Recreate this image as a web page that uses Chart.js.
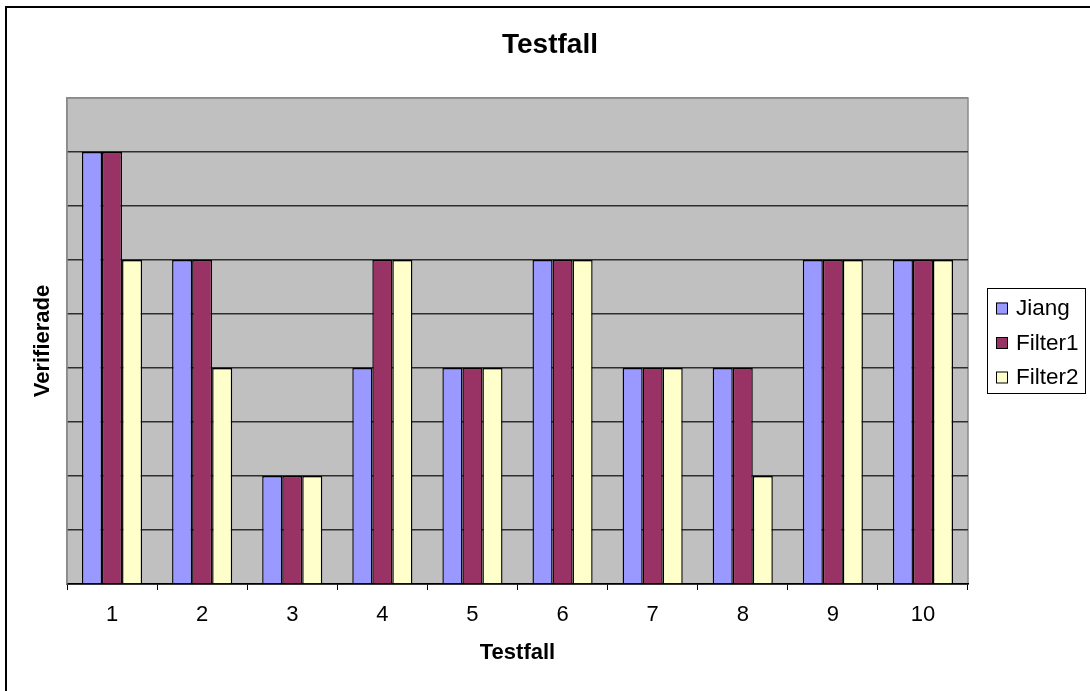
<!DOCTYPE html>
<html>
<head>
<meta charset="utf-8">
<script src="https://cdn.jsdelivr.net/npm/chart.js@4/dist/chart.umd.min.js"></script>
<style>
  html, body { margin: 0; padding: 0; background: #fff; }
  #c { display: block; }
</style>
</head>
<body>
<canvas id="c" width="1090" height="691"></canvas>
<script>
// Test cases and verified counts per method
const categories = ['1', '2', '3', '4', '5', '6', '7', '8', '9', '10'];
const seriesNames = ['Jiang', 'Filter1', 'Filter2'];
const jiang   = [8, 6, 2, 4, 4, 6, 4, 4, 6, 6];
const filter1 = [8, 6, 2, 6, 4, 6, 4, 4, 6, 6];
const filter2 = [6, 4, 2, 6, 4, 6, 4, 2, 6, 6];
const seriesColors = ['#9999FF', '#993366', '#FFFFCC'];
const yMax = 9;

const FONT = "'Liberation Sans', Arial, sans-serif";

// Grey plot background with a thin grey frame
const plotBackground = {
  id: 'plotBackground',
  beforeDraw(chart) {
    const { ctx, chartArea: a } = chart;
    ctx.save();
    ctx.fillStyle = '#C0C0C0';
    ctx.fillRect(a.left, a.top, a.right - a.left, a.bottom - a.top);
    ctx.strokeStyle = '#8a8a8a';
    ctx.lineWidth = 1.5;
    ctx.strokeRect(a.left, a.top, a.right - a.left, a.bottom - a.top);
    ctx.restore();
  }
};

// Outer frame lines and boxed legend
const frameAndLegend = {
  id: 'frameAndLegend',
  afterDraw(chart) {
    const ctx = chart.ctx;
    ctx.save();
    ctx.fillStyle = '#000';
    ctx.fillRect(5, 6, 2, 700);
    ctx.fillRect(5, 6, 1100, 2);

    // legend box
    const bx = 987, by = 288, bw = 98, bh = 105;
    ctx.fillStyle = '#fff';
    ctx.fillRect(bx, by, bw, bh);
    ctx.strokeStyle = '#000';
    ctx.lineWidth = 1;
    ctx.strokeRect(bx + 0.5, by + 0.5, bw, bh);

    ctx.font = '22.5px ' + FONT;
    ctx.textBaseline = 'middle';
    ctx.textAlign = 'left';
    chart.data.datasets.forEach((ds, i) => {
      const cy = 308 + i * 34.5;
      ctx.fillStyle = ds.backgroundColor;
      ctx.fillRect(996, cy - 5.5, 11, 11);
      ctx.strokeStyle = '#000';
      ctx.lineWidth = 1;
      ctx.strokeRect(996.5, cy - 5, 11, 11);
      ctx.fillStyle = '#000';
      ctx.fillText(ds.label, 1016, cy + 1);
    });
    ctx.restore();
  }
};

const dataSeries = [jiang, filter1, filter2];

new Chart(document.getElementById('c'), {
  type: 'bar',
  data: {
    labels: categories,
    datasets: seriesNames.map((name, i) => ({
      label: name,
      data: dataSeries[i],
      backgroundColor: seriesColors[i],
      borderColor: '#000',
      borderWidth: 1.4,
      categoryPercentage: 0.667,
      barPercentage: 1.0
    }))
  },
  options: {
    responsive: false,
    animation: false,
    layout: { padding: { left: 10, right: 0, top: 0, bottom: 0 } },
    plugins: {
      legend: { display: false },
      tooltip: { enabled: false },
      title: {
        display: true,
        text: 'Testfall',
        color: '#000',
        font: { family: FONT, size: 28, weight: 'bold' },
        padding: { top: 28, bottom: 36.4 }
      }
    },
    scales: {
      x: {
        grid: {
          drawOnChartArea: false,
          drawTicks: true,
          tickLength: 6,
          color: '#000',
          tickColor: '#000',
          offset: true
        },
        border: { display: true, color: '#000', width: 1.5 },
        ticks: {
          color: '#000',
          padding: 12,
          font: { family: FONT, size: 22 }
        },
        title: {
          display: true,
          text: 'Testfall',
          color: '#000',
          font: { family: FONT, size: 22, weight: 'bold' },
          padding: { top: 0, bottom: 24.8 }
        },
        afterFit(scale) { scale.height = 107; }
      },
      y: {
        min: 0,
        max: yMax,
        ticks: { display: false, stepSize: 1 },
        grid: {
          drawTicks: false,
          lineWidth: 1.5,
          color: ctx => (ctx.tick && ctx.tick.value === yMax) ? '#8a8a8a' : '#2e2e2e'
        },
        border: { display: true, color: '#8a8a8a', width: 1.5 },
        title: {
          display: true,
          text: 'Verifierade',
          color: '#000',
          font: { family: FONT, size: 22, weight: 'bold' },
          padding: { top: 19.8, bottom: 0 }
        },
        afterFit(scale) { scale.width = 57; }
      },
      legendSpace: {
        type: 'linear',
        position: 'right',
        display: true,
        grid: { display: false, drawTicks: false },
        border: { display: false },
        ticks: { display: false },
        afterFit(scale) { scale.width = 122; }
      }
    }
  },
  plugins: [plotBackground, frameAndLegend]
});
</script>
</body>
</html>
